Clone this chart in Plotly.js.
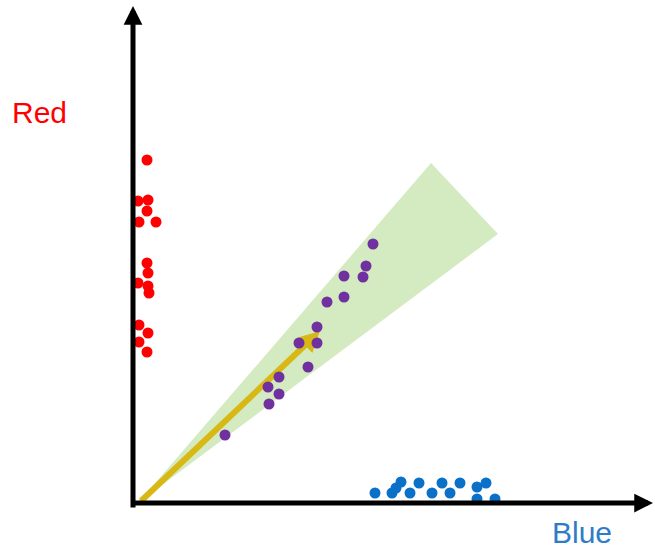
<!DOCTYPE html>
<html>
<head>
<meta charset="utf-8">
<script src="https://cdn.plot.ly/plotly-3.0.1.min.js"></script>
<style>html,body{margin:0;padding:0;background:#fff;}#chart{width:655px;height:550px;}</style>
</head>
<body>
<div id="chart"></div>
<script>
// Red samples (lying along the vertical axis)
const redX = [14, 5, 15, 14, 6, 23, 14, 15, 5, 15, 16, 6, 15, 6, 14];
const redY = [343, 302, 303, 292, 281, 281, 240, 230, 220, 217, 210, 178, 170, 161, 151];
// Purple samples (diagonal)
const purpleX = [240, 233, 211, 230, 211, 194, 184, 166, 184, 175, 146, 135, 146, 136, 92];
const purpleY = [259, 237, 227, 226, 206, 201, 176, 160, 160, 136, 126, 116, 109, 99, 68];
// Blue samples (lying along the horizontal axis)
const blueX = [242, 259, 263, 268, 277, 286, 299, 309, 317, 327, 344, 353, 344, 362];
const blueY = [10, 10, 15, 21, 10, 20, 10, 20, 10, 20, 16, 20, 4, 4];
// Confidence cone (wedge) and mean direction arrow
const coneX = [5, 298, 365];
const coneY = [0, 340, 269];
const arrowX = [8, 186];
const arrowY = [2, 171];
// Axis labels
const labelRed = "Red";
const labelBlue = "Blue";

// Arrow head triangle for the yellow arrow, computed from its direction
const dx = arrowX[1] - arrowX[0], dy = arrowY[1] - arrowY[0];
const L = Math.hypot(dx, dy), ux = dx / L, uy = dy / L;
const headLen = 19, headHalf = 10;
const bx = arrowX[1] - ux * headLen, by = arrowY[1] - uy * headLen;
const sx = arrowX[1] - ux * (headLen - 3), sy = arrowY[1] - uy * (headLen - 3);
const headX = [arrowX[1], bx - uy * headHalf, bx + uy * headHalf, arrowX[1]];
const headY = [arrowY[1], by + ux * headHalf, by - ux * headHalf, arrowY[1]];

const yellow = "#d8b815";
const traces = [
  {x: coneX, y: coneY, type: "scatter", mode: "lines", fill: "toself",
   fillcolor: "#d4ebc1", line: {width: 0, color: "#d4ebc1"}, hoverinfo: "skip"},
  {x: [arrowX[0], sx], y: [arrowY[0], sy], type: "scatter", mode: "lines",
   line: {color: yellow, width: 6}, hoverinfo: "skip"},
  {x: headX, y: headY, type: "scatter", mode: "lines", fill: "toself",
   fillcolor: yellow, line: {width: 1, color: yellow}, hoverinfo: "skip"},
  {x: redX, y: redY, type: "scatter", mode: "markers",
   marker: {color: "#ff0000", size: 11}},
  {x: purpleX, y: purpleY, type: "scatter", mode: "markers",
   marker: {color: "#7030a0", size: 11}},
  {x: blueX, y: blueY, type: "scatter", mode: "markers",
   marker: {color: "#0a70c8", size: 11}}
];

const layout = {
  width: 655, height: 550,
  margin: {l: 0, r: 0, t: 0, b: 0, pad: 0},
  paper_bgcolor: "#ffffff", plot_bgcolor: "#ffffff",
  showlegend: false,
  xaxis: {range: [-133, 522], visible: false, fixedrange: true},
  yaxis: {range: [-47, 503], visible: false, fixedrange: true},
  annotations: [
    {x: 0, y: 497, ax: 0, ay: -6, axref: "x", ayref: "y", xref: "x", yref: "y",
     text: "", showarrow: true, arrowhead: 2, arrowsize: 0.75, arrowwidth: 5,
     arrowcolor: "#000000", standoff: 0},
    {x: 520, y: 0, ax: -3, ay: 0, axref: "x", ayref: "y", xref: "x", yref: "y",
     text: "", showarrow: true, arrowhead: 2, arrowsize: 0.75, arrowwidth: 5,
     arrowcolor: "#000000", standoff: 0},
    {x: -94, y: 391, xref: "x", yref: "y", text: labelRed, showarrow: false,
     font: {family: "Liberation Sans, Arial, sans-serif", size: 30, color: "#ff0000"}},
    {x: 449, y: -29, xref: "x", yref: "y", text: labelBlue, showarrow: false,
     font: {family: "Liberation Sans, Arial, sans-serif", size: 30, color: "#2e7cc8"}}
  ]
};

Plotly.newPlot("chart", traces, layout, {displayModeBar: false, staticPlot: true});
</script>
</body>
</html>
